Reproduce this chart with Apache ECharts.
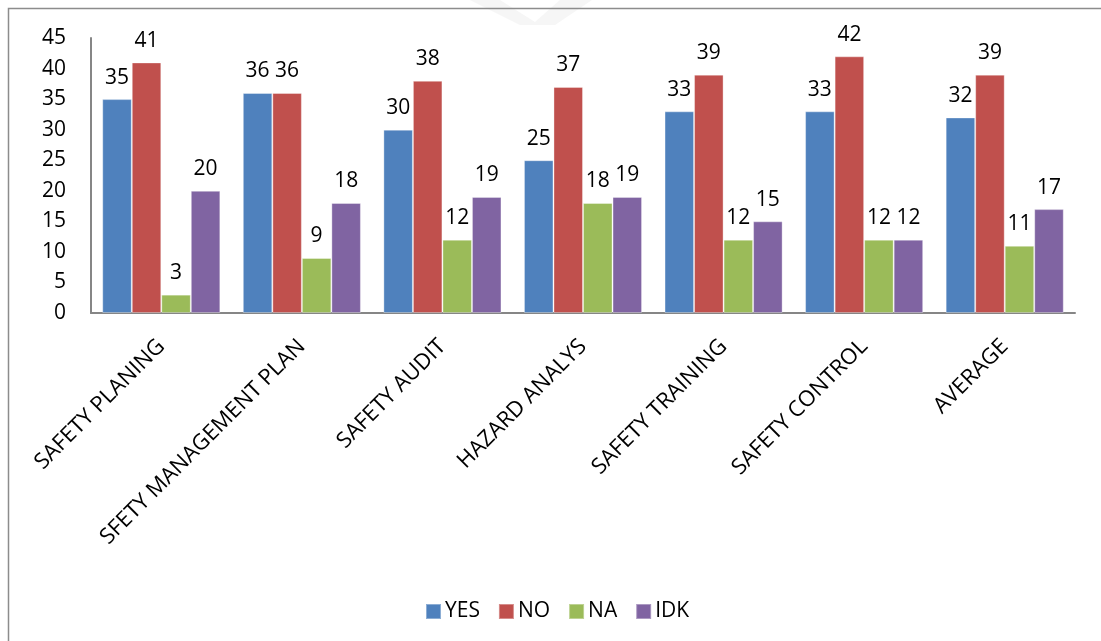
<!DOCTYPE html>
<html>
<head>
<meta charset="utf-8">
<script src="https://cdn.jsdelivr.net/npm/echarts@6/dist/echarts.min.js"></script>
<style>
  html, body { margin: 0; padding: 0; background: #fff; }
  #chart { width: 1101px; height: 641px; }
</style>
</head>
<body>
<div id="chart"></div>
<script>
// Survey answers per safety topic
const categories = ['SAFETY PLANING', 'SFETY MANAGEMENT PLAN', 'SAFETY AUDIT', 'HAZARD ANALYS', 'SAFETY TRAINING', 'SAFETY CONTROL', 'AVERAGE'];
const yesValues = [35, 36, 30, 25, 33, 33, 32];
const noValues  = [41, 36, 38, 37, 39, 42, 39];
const naValues  = [3, 9, 12, 18, 12, 12, 11];
const idkValues = [20, 18, 19, 19, 15, 12, 17];
const seriesNames = ['YES', 'NO', 'NA', 'IDK'];
const yTicks = [0, 5, 10, 15, 20, 25, 30, 35, 40, 45];

const FONT = '"Open Sans", "Noto Sans", sans-serif';
const colors = ['#4F81BD', '#C0504D', '#9BBB59', '#8064A2'];
const valueSets = [yesValues, noValues, naValues, idkValues];

const chart = echarts.init(document.getElementById('chart'), null, { renderer: 'canvas' });

const series = seriesNames.map((name, i) => ({
  name,
  type: 'bar',
  data: valueSets[i],
  barGap: '0%',
  barCategoryGap: '16%',
  itemStyle: { color: colors[i], borderColor: 'rgba(255,255,255,0.35)', borderWidth: 1 },
  label: {
    show: true,
    position: 'top',
    distance: 11,
    color: '#000',
    fontFamily: FONT,
    fontSize: 21
  }
}));

chart.setOption({
  animation: false,
  backgroundColor: '#fff',
  color: colors,
  graphic: [
    // frame around the chart
    {
      type: 'polyline',
      shape: { points: [[8.5, 650], [8.5, 8.5], [1110, 8.5]] },
      style: { stroke: '#8c8c8c', lineWidth: 1.5, fill: null },
      silent: true
    },
    // faint background mark at top
    {
      type: 'polygon',
      shape: { points: [[470, 0], [500, 0], [535, 22], [560, 0], [592, 0], [555, 25], [520, 25]] },
      style: { fill: '#f6f6f6' },
      z: -1, silent: true
    }
  ],
  legend: {
    data: seriesNames,
    left: 420,
    top: 596,
    itemWidth: 15,
    itemHeight: 15,
    itemGap: 18,
    icon: 'rect',
    textStyle: { fontFamily: FONT, fontSize: 21, color: '#000', padding: [0, 0, 0, -1] }
  },
  grid: { left: 91, right: 26, top: 38, bottom: 328, containLabel: false },
  xAxis: {
    type: 'category',
    data: categories,
    axisLine: { lineStyle: { color: '#868686', width: 2 } },
    axisTick: { show: false },
    axisLabel: {
      interval: 0,
      rotate: 45,
      margin: 30,
      color: '#000',
      fontFamily: FONT,
      fontSize: 22
    }
  },
  yAxis: {
    type: 'value',
    min: 0,
    max: 45,
    interval: 5,
    axisLine: { show: true, lineStyle: { color: '#868686', width: 2 } },
    axisTick: { show: false },
    splitLine: { show: false },
    axisLabel: {
      margin: 25,
      color: '#000',
      fontFamily: FONT,
      fontSize: 21,
      formatter: v => (yTicks.includes(v) ? String(v) : '')
    }
  },
  series
});
</script>
</body>
</html>
